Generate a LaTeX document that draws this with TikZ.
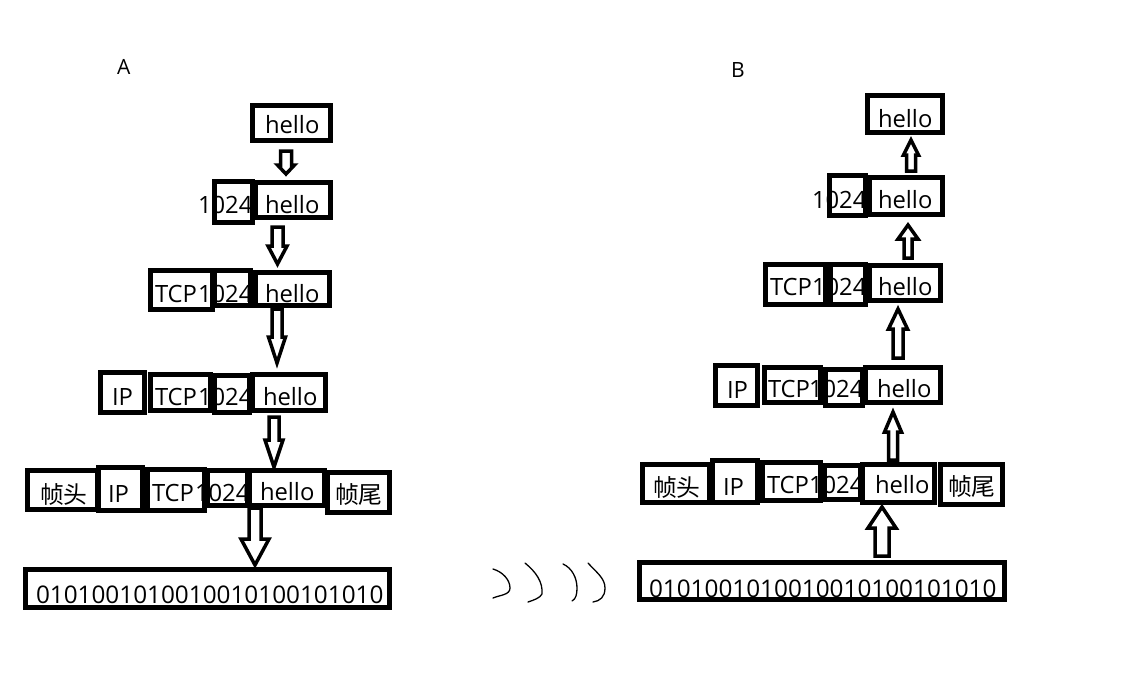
\documentclass[tikz,border=0pt]{standalone}
\usepackage{fontspec}
\setmainfont{Open Sans}
\newfontfamily\cjk{Noto Sans CJK SC}
\tikzset{
  box/.style={draw=black, line width=4.5pt, line join=miter},
  txt/.style={anchor=base west, inner sep=0pt, outer sep=0pt, font=\fontsize{23.8}{26}\selectfont},
  bits/.style={anchor=base west, inner sep=0pt, outer sep=0pt, font=\fontsize{24.3}{27}\selectfont},
  lbl/.style={anchor=base west, inner sep=0pt, outer sep=0pt, font=\fontsize{21}{23}\selectfont},
  blk/.style={draw=black, line width=3.5pt, line join=miter, fill=white},
  squig/.style={draw=black, line width=1.3pt, line cap=round}
}
% block arrow: xc, ystart, yheadbase, ytip, shaft half, head half
\newcommand\blkarrow[6]{%
  \draw[blk] (#1-#5,#2) -- (#1-#5,#3) -- (#1-#6,#3) -- (#1,#4) -- (#1+#6,#3) -- (#1+#5,#3) -- (#1+#5,#2) -- cycle;}
\begin{document}
\begin{tikzpicture}[x=1pt,y=-1pt]
\useasboundingbox (0,0) rectangle (1121,675);
\fill[white] (0,0) rectangle (1121,675);

% labels
\node[lbl] (labA) at (117,74) {A};
\node[lbl] (labB) at (731,77) {B};

% ===== A side texts =====
\node[txt] (a1h) at (265,133) {hello};
\node[txt] (a2n) at (198,213) {1024};
\node[txt] (a2h) at (265,213) {hello};
\node[txt] (a3t) at (155,302) {TCP};
\node[txt] (a3n) at (198,302) {1024};
\node[txt] (a3h) at (265,302) {hello};
\node[txt] (a4i) at (112,405) {IP};
\node[txt] (a4t) at (155,405) {TCP};
\node[txt] (a4n) at (198,405) {1024};
\node[txt] (a4h) at (263,405) {hello};
\node[txt] (a5f) at (40,503) {\cjk 帧头};
\node[txt] (a5i) at (108,502) {IP};
\node[txt] (a5t) at (152,501) {TCP};
\node[txt] (a5n) at (195,501) {1024};
\node[txt] (a5h) at (260,500) {hello};
\node[txt] (a5e) at (335,503) {\cjk 帧尾};
\node[bits] (a6) at (36,603) {0101001010010010100101010};

% ===== A side boxes =====
\draw[box] (252.5,105.5) rectangle (330.5,140.5);
\draw[box] (214.5,181.5) rectangle (252.5,222.5);
\draw[box] (255.5,182.5) rectangle (330.5,217.5);
\draw[box] (150.5,270.5) rectangle (212.5,309.5);
\draw[box] (214.5,270.5) rectangle (250.5,305.5);
\draw[box] (255.5,272.5) rectangle (329.5,305.5);
\draw[box] (100.5,372.5) rectangle (144.5,412.5);
\draw[box] (150.5,374.5) rectangle (210.5,410.5);
\draw[box] (214.5,375.5) rectangle (249.5,412.5);
\draw[box] (252.5,374.5) rectangle (325.5,410.5);
\draw[box] (27.5,470.5) rectangle (97.5,509.5);
\draw[box] (98.5,467.5) rectangle (142.5,510.5);
\draw[box] (147.5,469.5) rectangle (204.5,510.5);
\draw[box] (207.5,470.5) rectangle (247.5,505.5);
\draw[box] (249.5,470.5) rectangle (324.5,505.5);
\draw[box] (327.5,472.5) rectangle (389.5,512.5);
\draw[box] (25.5,569.5) rectangle (389.5,607.5);

% ===== A side arrows =====
\blkarrow{286}{151}{165}{174}{5.5}{8.5}
\blkarrow{277.5}{227}{246}{264}{5.5}{9.5}
\blkarrow{277}{309}{337}{363}{5}{8.5}
\blkarrow{274}{417}{440}{467}{5}{9}
\blkarrow{255}{508}{539}{565}{6}{14}

% ===== B side texts =====
\node[txt] (b1h) at (878,127) {hello};
\node[txt] (b2n) at (812,208) {1024};
\node[txt] (b2h) at (878,208) {hello};
\node[txt] (b3t) at (770,295) {TCP};
\node[txt] (b3n) at (812,295) {1024};
\node[txt] (b3h) at (878,295) {hello};
\node[txt] (b4i) at (727,398) {IP};
\node[txt] (b4t) at (768,397) {TCP};
\node[txt] (b4n) at (809,397) {1024};
\node[txt] (b4h) at (877,397) {hello};
\node[txt] (b5f) at (653,496) {\cjk 帧头};
\node[txt] (b5i) at (723,495) {IP};
\node[txt] (b5t) at (767,493) {TCP};
\node[txt] (b5n) at (809,493) {1024};
\node[txt] (b5h) at (875,493) {hello};
\node[txt] (b5e) at (948,495) {\cjk 帧尾};
\node[bits] (b6) at (649,597) {0101001010010010100101010};

% ===== B side boxes =====
\draw[box] (867.5,95.5) rectangle (942.5,132.5);
\draw[box] (829.5,175.5) rectangle (865.5,215.5);
\draw[box] (869.5,177.5) rectangle (942.5,214.5);
\draw[box] (765.5,264.5) rectangle (825.5,304.5);
\draw[box] (830.5,264.5) rectangle (865.5,304.5);
\draw[box] (869.5,265.5) rectangle (940.5,300.5);
\draw[box] (715.5,365.5) rectangle (757.5,405.5);
\draw[box] (764.5,367.5) rectangle (820.5,402.5);
\draw[box] (825.5,369.5) rectangle (862.5,405.5);
\draw[box] (865.5,367.5) rectangle (940.5,402.5);
\draw[box] (642.5,464.5) rectangle (709.5,502.5);
\draw[box] (712.5,460.5) rectangle (757.5,502.5);
\draw[box] (762.5,462.5) rectangle (820.5,500.5);
\draw[box] (824.5,465.5) rectangle (860.5,499.5);
\draw[box] (862.5,464.5) rectangle (934.5,502.5);
\draw[box] (940.5,464.5) rectangle (1002.5,504.5);
\draw[box] (639.5,562.5) rectangle (1004.5,599.5);

% ===== B side arrows =====
\blkarrow{911}{171}{155}{140}{4.5}{7.5}
\blkarrow{908}{258}{239}{225}{4}{10}
\blkarrow{898}{358}{329}{309}{5}{9.5}
\blkarrow{893}{460}{432}{412}{4.5}{8.5}
\blkarrow{882}{556}{528}{507}{7}{14}

% ===== squiggles =====
\draw[squig] (493,569) .. controls (503,572) and (510,580) .. (510,588) .. controls (510,595) and (500,595) .. (493,598);
\draw[squig] (525,563) .. controls (536,572) and (543,582) .. (542,594) .. controls (540,598) and (534,600) .. (528,602);
\draw[squig] (563,564) .. controls (572,568) and (577,578) .. (577,588) .. controls (577,594) and (576,599) .. (572,601);
\draw[squig] (588,563) .. controls (596,572) and (605,578) .. (605,588) .. controls (605,597) and (600,601) .. (593,602);
\end{tikzpicture}
\end{document}
